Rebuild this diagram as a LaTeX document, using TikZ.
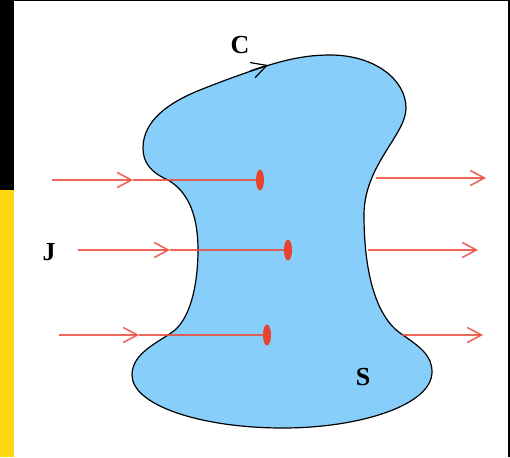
\documentclass[tikz,border=0pt]{standalone}
\usepackage{fontspec}
\setmainfont{Liberation Serif}
\usepackage{tikz}
\usetikzlibrary{shapes.geometric, arrows.meta, positioning, calc}
\usepackage{xcolor}
\definecolor{surf}{HTML}{87CEFA}
\definecolor{jred}{HTML}{EC4B3C}
\definecolor{dotred}{HTML}{E8432F}
\definecolor{bary}{HTML}{FFD814}

\begin{document}
\begin{tikzpicture}[
    x=1pt, y=-1pt,
    every node/.style={font=\fontsize{26}{30}\selectfont\bfseries},
    jarr/.style={-{Straight Barb[length=14pt, width=15pt, line width=1.6pt]},
                 line width=1.6pt, color=jred, opacity=0.85},
    jline/.style={line width=1.6pt, color=jred, opacity=0.85},
    hit/.style={ellipse, fill=dotred, inner sep=0pt, minimum width=8pt,
                minimum height=21pt},
    carr/.style={-{Straight Barb[length=15pt, width=16pt, line width=1.2pt]},
                 line width=1.2pt}
]
    \useasboundingbox (0,0) rectangle (510,457);
    \fill[white] (0,0) rectangle (510,457);
    % frame
    \fill[black] (0,0) rectangle (14,190);
    \fill[bary]  (0,190) rectangle (14,457);
    \fill[black] (0,0) rectangle (510,1.5);
    \fill[black] (507.5,0) rectangle (510,457);

    % surface S bounded by C
    \draw[fill=surf, line width=1.2pt]
        (263,67) .. controls (285,60) and (305,55) .. (330,55)
                 .. controls (375,55) and (406,80) .. (406,108)
                 .. controls (406,135) and (364,165) .. (364,215)
                 .. controls (364,270) and (375,315) .. (400,333)
                 .. controls (420,347) and (432,355) .. (432,372)
                 .. controls (432,405) and (360,428) .. (283,428)
                 .. controls (200,428) and (132,405) .. (132,375)
                 .. controls (132,352) and (160,342) .. (175,330)
                 .. controls (192,315) and (198,280) .. (198,250)
                 .. controls (198,210) and (185,190) .. (168,180)
                 .. controls (150,172) and (143,162) .. (143,148)
                 .. controls (143,120) and (170,102) .. (200,90)
                 .. controls (225,80) and (245,73) .. cycle;

    \coordinate (c0) at (250,71);
    \coordinate (c1) at (268,65);
    \draw[carr] (c0) -- (c1);
    \node (lC) at (240,45) {C};
    \node (lJ) at (49,252) {J};
    \node (lS) at (363,377) {S};

    % current lines
    \node[hit] (d1) at (260,180) {};
    \node[hit] (d2) at (288,250) {};
    \node[hit] (d3) at (267,335) {};
    \coordinate (a1) at (52,180);
    \coordinate (a2) at (78,250);
    \coordinate (a3) at (59,335);
    \coordinate (m1) at (133,180);
    \coordinate (m2) at (170,250);
    \coordinate (m3) at (139,335);
    \draw[jarr] (a1) -- (m1);
    \draw[jline] (m1) -- (d1);
    \draw[jarr] (a2) -- (m2);
    \draw[jline] (m2) -- (d2);
    \draw[jarr] (a3) -- (m3);
    \draw[jline] (m3) -- (d3);

    \coordinate (b1) at (376,178);
    \coordinate (b2) at (368,250);
    \coordinate (b3) at (402,335);
    \coordinate (e1) at (486,178);
    \coordinate (e2) at (478,250);
    \coordinate (e3) at (483,335);
    \draw[jarr] (b1) -- (e1);
    \draw[jarr] (b2) -- (e2);
    \draw[jarr] (b3) -- (e3);
\end{tikzpicture}
\end{document}
